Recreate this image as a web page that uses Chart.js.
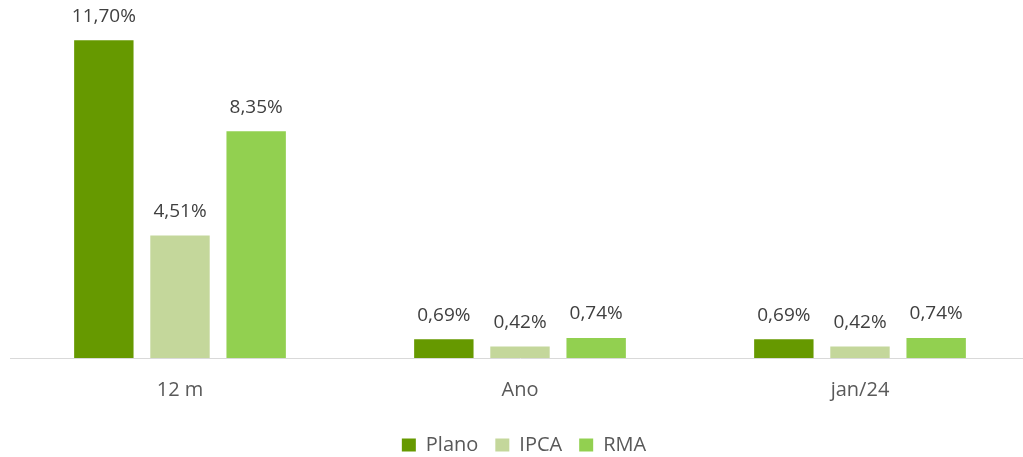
<!DOCTYPE html>
<html><head><meta charset="utf-8">
<script src="https://cdn.jsdelivr.net/npm/chart.js@4"></script>
<style>
html,body{margin:0;padding:0;background:#fff;overflow:hidden;width:1023px;height:457px;}
#wrap{position:absolute;left:0;top:0;width:1048px;height:465px;}
</style></head>
<body><div id="wrap"><canvas id="c" width="1048" height="465"></canvas></div>
<script>
const categories = ["12 m", "Ano", "jan/24"];
const seriesNames = ["Plano", "IPCA", "RMA"];
const plano = [11.70, 0.69, 0.69];
const ipca = [4.51, 0.42, 0.42];
const rma = [8.35, 0.74, 0.74];
const colors = ["#669900", "#C4D79B", "#92D050"];

const fmt = v => v.toFixed(2).replace('.', ',') + '%';
const FONT = "'Open Sans', 'Noto Sans', sans-serif";

const labelPlugin = {
  id: 'vals',
  afterDatasetsDraw(chart) {
    const ctx = chart.ctx;
    ctx.save();
    ctx.font = "19px " + FONT;
    ctx.fillStyle = "#404040";
    ctx.textAlign = "center";
    ctx.textBaseline = "middle";
    chart.data.datasets.forEach((ds, i) => {
      chart.getDatasetMeta(i).data.forEach((bar, j) => {
        ctx.fillText(fmt(ds.data[j]), bar.x, bar.y - 24);
      });
    });
    ctx.restore();
  }
};

const hiddenAxis = (pos, w, extra) => Object.assign({
  position: pos,
  display: true,
  grid: {display: false, drawTicks: false},
  border: {display: false},
  ticks: {display: false},
  afterFit: (s) => { s.width = w; }
}, extra);

new Chart(document.getElementById('c'), {
  type: 'bar',
  data: {
    labels: categories,
    datasets: [
      {label: seriesNames[0], data: plano, backgroundColor: colors[0]},
      {label: seriesNames[1], data: ipca, backgroundColor: colors[1]},
      {label: seriesNames[2], data: rma, backgroundColor: colors[2]}
    ]
  },
  options: {
    responsive: false,
    animation: false,
    events: [],
    categoryPercentage: 0.672,
    barPercentage: 0.78,
    layout: {padding: {left: 0, right: 0, top: 5, bottom: 0}},
    plugins: {
      legend: {
        position: 'bottom',
        labels: {
          boxWidth: 14, boxHeight: 13, padding: 17,
          color: "#595959",
          font: {family: FONT, size: 20}
        }
      },
      tooltip: {enabled: false}
    },
    scales: {
      x: {
        grid: {display: false, drawTicks: false},
        border: {display: true, color: "#d9d9d9", width: 1},
        ticks: {color: "#595959", font: {family: FONT, size: 20}, padding: 20},
        afterFit: (s) => { s.height = 60; }
      },
      y: hiddenAxis('left', 10, {min: 0, max: 13}),
      y2: hiddenAxis('right', 18, {min: 0, max: 1})
    }
  },
  plugins: [labelPlugin]
});
</script></body></html>
